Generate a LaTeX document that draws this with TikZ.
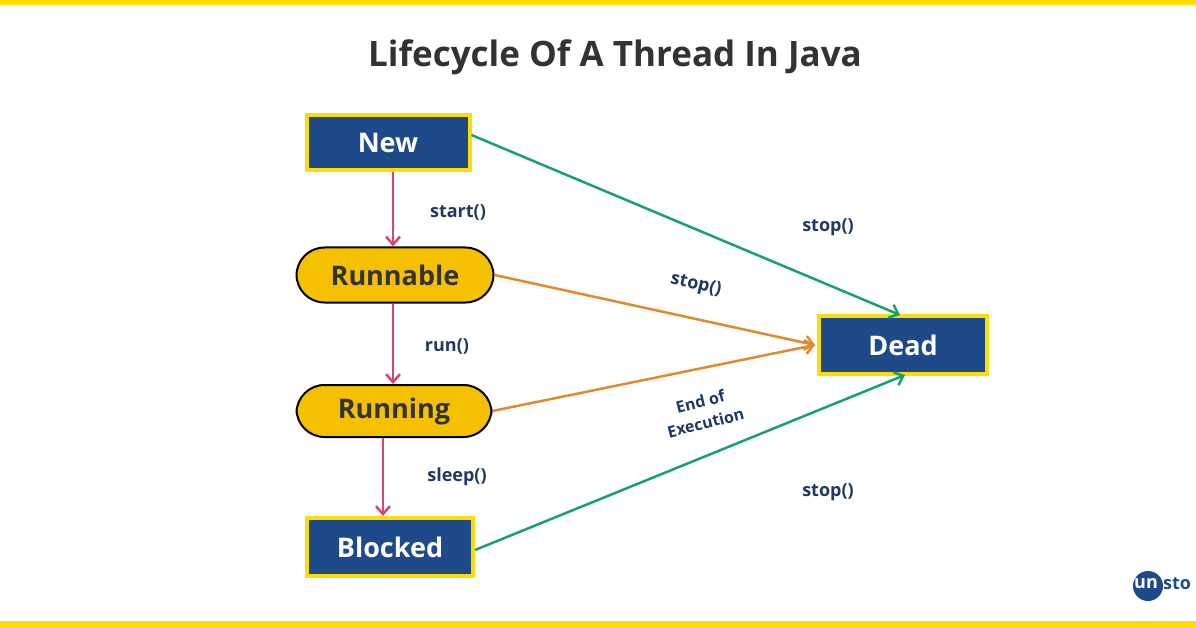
\documentclass[tikz,border=0pt]{standalone}
\usepackage{fontspec}
\setmainfont{Open Sans}
\begin{document}
\begin{tikzpicture}[x=1pt,y=-1pt,
  box/.style={draw=yellow!80!orange,line width=4pt,fill=navy,text=white,font=\bfseries\fontsize{27}{31}\selectfont,minimum width=163pt,minimum height=55pt,inner sep=0pt},
  pill/.style={draw=black,line width=2pt,fill=gold,text=black!80,font=\bfseries\fontsize{27}{31}\selectfont,rounded corners=28pt,minimum width=197pt,minimum height=55pt,inner sep=0pt},
  lbl/.style={text=lnavy,font=\bfseries\fontsize{18}{21}\selectfont,align=center},
  pa/.style={draw=pinkc,line width=2.5pt,-{Straight Barb[length=8pt,width=14pt]}},
  ga/.style={draw=greenc,line width=2.5pt,-{Straight Barb[length=8pt,width=14pt]}},
  oa/.style={draw=orangec,line width=2.5pt,-{Straight Barb[length=8pt,width=14pt]}}]
\definecolor{navy}{HTML}{1F4A8A}
\definecolor{lnavy}{HTML}{1F3864}
\definecolor{gold}{HTML}{F5C000}
\definecolor{pinkc}{HTML}{D6457A}
\definecolor{greenc}{HTML}{1AA06A}
\definecolor{orangec}{HTML}{E08A2E}
\usetikzlibrary{arrows.meta}
\fill[white] (0,0) rectangle (1196,628);
\useasboundingbox (0,0) rectangle (1196,628);
\fill[yellow!80!orange] (0,0) rectangle (1196,5);
\fill[yellow!80!orange] (0,621) rectangle (1196,628);
\node[font=\bfseries\fontsize{35}{40}\selectfont,text=black!80] (title) at (615,57) {Lifecycle Of A Thread In Java};
\node[box] (new) at (388,143) {New};
\node[pill] (runnable) at (395,275) {Runnable};
\node[pill,minimum width=195pt,minimum height=52pt] (running) at (394,411) {Running};
\node[box,minimum width=166pt,minimum height=58pt] (blocked) at (390,547) {Blocked};
\node[box,minimum width=168pt,minimum height=58pt] (dead) at (903,345) {Dead};
\draw[pa] (new.south -| 393,0) -- (runnable.north -| 393,0);
\draw[pa] (runnable.south -| 393,0) -- (running.north -| 393,0);
\draw[pa] (running.south -| 383,0) -- (blocked.north -| 383,0);
\coordinate (d1) at (900,315);
\coordinate (d2) at (905,375);
\coordinate (d3) at (815,345);
\draw[ga] (new.east |- 0,135) -- (d1);
\draw[ga] (blocked.east |- 0,550) -- (d2);
\draw[oa] (runnable.east) -- (d3);
\draw[oa] (running.east) -- (d3);
\node[lbl] (l1) at (458,212) {start()};
\node[lbl] (l2) at (447,346) {run()};
\node[lbl] (l3) at (457,477) {sleep()};
\node[lbl] (l4) at (828,227) {stop()};
\node[lbl,rotate=-13] (l5) at (696,285) {stop()};
\node[lbl,rotate=14,font=\bfseries\fontsize{16}{22}\selectfont] (l6) at (703,412) {End of\\Execution};
\node[lbl] (l7) at (828,492) {stop()};
\begin{scope}
\clip (1120,560) rectangle (1196,610);
\fill[navy] (1148,586) circle (15);
\node[text=white,font=\bfseries\fontsize{18}{20}\selectfont,anchor=west,inner sep=0] (un) at (1134,584) {un};
\node[text=navy,font=\bfseries\fontsize{18}{20}\selectfont,anchor=west,inner sep=0] (sto) at (1163,584) {sto};
\end{scope}
\end{tikzpicture}
\end{document}
